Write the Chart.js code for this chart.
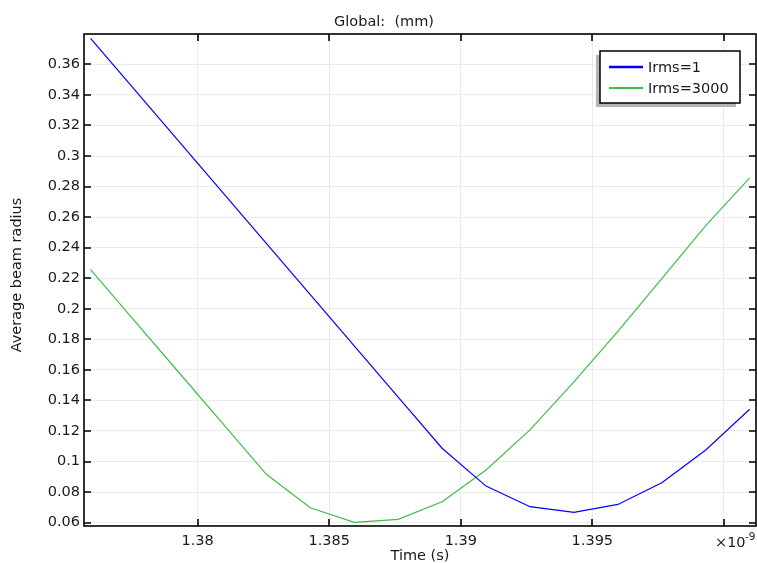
<!DOCTYPE html>
<html>
<head>
<meta charset="utf-8">
<script src="https://cdn.jsdelivr.net/npm/chart.js@4.4.0/dist/chart.umd.min.js"></script>
<style>
    html, body { margin: 0; padding: 0; background: #fff; }
</style>
</head>
<body>
<canvas id="beamChart" width="757" height="563"></canvas>
<script>
// time in units of 1e-9 s, radius in mm
const timeValues = [1.37593, 1.37760, 1.37927, 1.38094, 1.38261, 1.38428, 1.38595, 1.38762,
                    1.38929, 1.39096, 1.39263, 1.39430, 1.39597, 1.39764, 1.39931, 1.40098];
const radiusIrms1 = [0.3770, 0.3435, 0.3099, 0.2764, 0.2428, 0.2093, 0.1757, 0.1422,
                     0.1087, 0.0839, 0.0704, 0.0667, 0.0719, 0.0861, 0.1075, 0.1342];
const radiusIrms3000 = [0.2256, 0.1921, 0.1586, 0.1251, 0.0916, 0.0697, 0.0601, 0.0621,
                        0.0736, 0.0944, 0.1207, 0.1521, 0.1852, 0.2198, 0.2544, 0.2857];
const seriesLabels = ['Irms=1', 'Irms=3000'];
const seriesColors = ['#0000ff', '#41bb48'];

const xMin = 1.37568, xMax = 1.40122;
const yMin = 0.05777, yMax = 0.3799;

const FONT = '"DejaVu Sans", sans-serif';

function toPoints(xs, ys) {
    return xs.map((x, i) => ({ x: x, y: ys[i] }));
}

function tickText(value) {
    return String(+value.toFixed(4));
}

const frameAndLabels = {
    id: 'frameAndLabels',
    afterDraw(chart) {
        const { ctx, chartArea: a, scales: { x, y } } = chart;
        ctx.save();

        // frame and inward ticks on all four sides
        ctx.strokeStyle = '#000';
        ctx.lineWidth = 1.6;
        ctx.beginPath();
        x.ticks.forEach(t => {
            const px = Math.round(x.getPixelForValue(t.value));
            ctx.moveTo(px, a.bottom); ctx.lineTo(px, a.bottom - 7);
            ctx.moveTo(px, a.top); ctx.lineTo(px, a.top + 7);
        });
        y.ticks.forEach(t => {
            const py = Math.round(y.getPixelForValue(t.value));
            ctx.moveTo(a.left, py); ctx.lineTo(a.left + 7, py);
            ctx.moveTo(a.right, py); ctx.lineTo(a.right - 7, py);
        });
        ctx.stroke();
        ctx.strokeRect(a.left, a.top, a.right - a.left, a.bottom - a.top);

        ctx.fillStyle = '#1a1a1a';
        ctx.textBaseline = 'middle';
        ctx.font = '14.5px ' + FONT;

        // title
        ctx.textAlign = 'center';
        ctx.fillText('Global:  (mm)', 384, 22);

        // axis titles
        ctx.fillText('Time (s)', (a.left + a.right) / 2, 556);
        ctx.save();
        ctx.translate(17, 275);
        ctx.rotate(-Math.PI / 2);
        ctx.fillText('Average beam radius', 0, 0);
        ctx.restore();

        // exponent
        ctx.textAlign = 'left';
        ctx.fillText('\u00d710', 715, 543);
        ctx.font = '10.5px ' + FONT;
        ctx.fillText('-9', 745, 537);

        // legend
        const lx = a.right - 156, ly = a.top + 17, lw = 140, lh = 52;
        ctx.fillStyle = '#b4b4b4';
        ctx.fillRect(lx - 4, ly + 4, lw, lh);
        ctx.fillStyle = '#fff';
        ctx.fillRect(lx, ly, lw, lh);
        ctx.lineWidth = 1.5;
        ctx.strokeStyle = '#000';
        ctx.strokeRect(lx, ly, lw, lh);

        ctx.font = '14.5px ' + FONT;
        chart.data.datasets.forEach((ds, i) => {
            const rowY = ly + 16 + i * 21;
            ctx.strokeStyle = ds.borderColor;
            ctx.lineWidth = i === 0 ? 2.6 : 2;
            ctx.beginPath();
            ctx.moveTo(lx + 9, rowY);
            ctx.lineTo(lx + 43, rowY);
            ctx.stroke();
            ctx.fillStyle = '#1a1a1a';
            ctx.fillText(ds.label, lx + 48, rowY + 1);
        });

        ctx.restore();
    }
};

new Chart(document.getElementById('beamChart'), {
    type: 'scatter',
    data: {
        datasets: [
            {
                label: seriesLabels[0],
                data: toPoints(timeValues, radiusIrms1),
                showLine: true,
                borderColor: seriesColors[0],
                borderWidth: 1.2,
                pointRadius: 0
            },
            {
                label: seriesLabels[1],
                data: toPoints(timeValues, radiusIrms3000),
                showLine: true,
                borderColor: seriesColors[1],
                borderWidth: 1.2,
                pointRadius: 0
            }
        ]
    },
    options: {
        responsive: false,
        animation: false,
        layout: { padding: { top: 34, right: 1, bottom: 0, left: 0 } },
        plugins: {
            legend: { display: false },
            tooltip: { enabled: false },
            title: { display: false }
        },
        scales: {
            x: {
                type: 'linear',
                min: xMin,
                max: xMax,
                afterFit: scale => { scale.height = 37; },
                border: { display: false },
                grid: { color: '#ebebeb', drawTicks: false },
                ticks: {
                    stepSize: 0.005,
                    includeBounds: false,
                    autoSkip: false,
                    maxRotation: 0,
                    padding: 7,
                    color: '#1a1a1a',
                    font: { family: FONT, size: 14.5 },
                    callback: v => Math.abs(v - 1.4) < 1e-9 ? '' : tickText(v)
                }
            },
            y: {
                min: yMin,
                max: yMax,
                afterFit: scale => { scale.width = 84; },
                border: { display: false },
                grid: { color: '#ebebeb', drawTicks: false },
                ticks: {
                    stepSize: 0.02,
                    includeBounds: false,
                    autoSkip: false,
                    padding: 4,
                    color: '#1a1a1a',
                    font: { family: FONT, size: 14.5 },
                    callback: v => tickText(v)
                }
            }
        }
    },
    plugins: [frameAndLabels]
});
</script>
</body>
</html>
